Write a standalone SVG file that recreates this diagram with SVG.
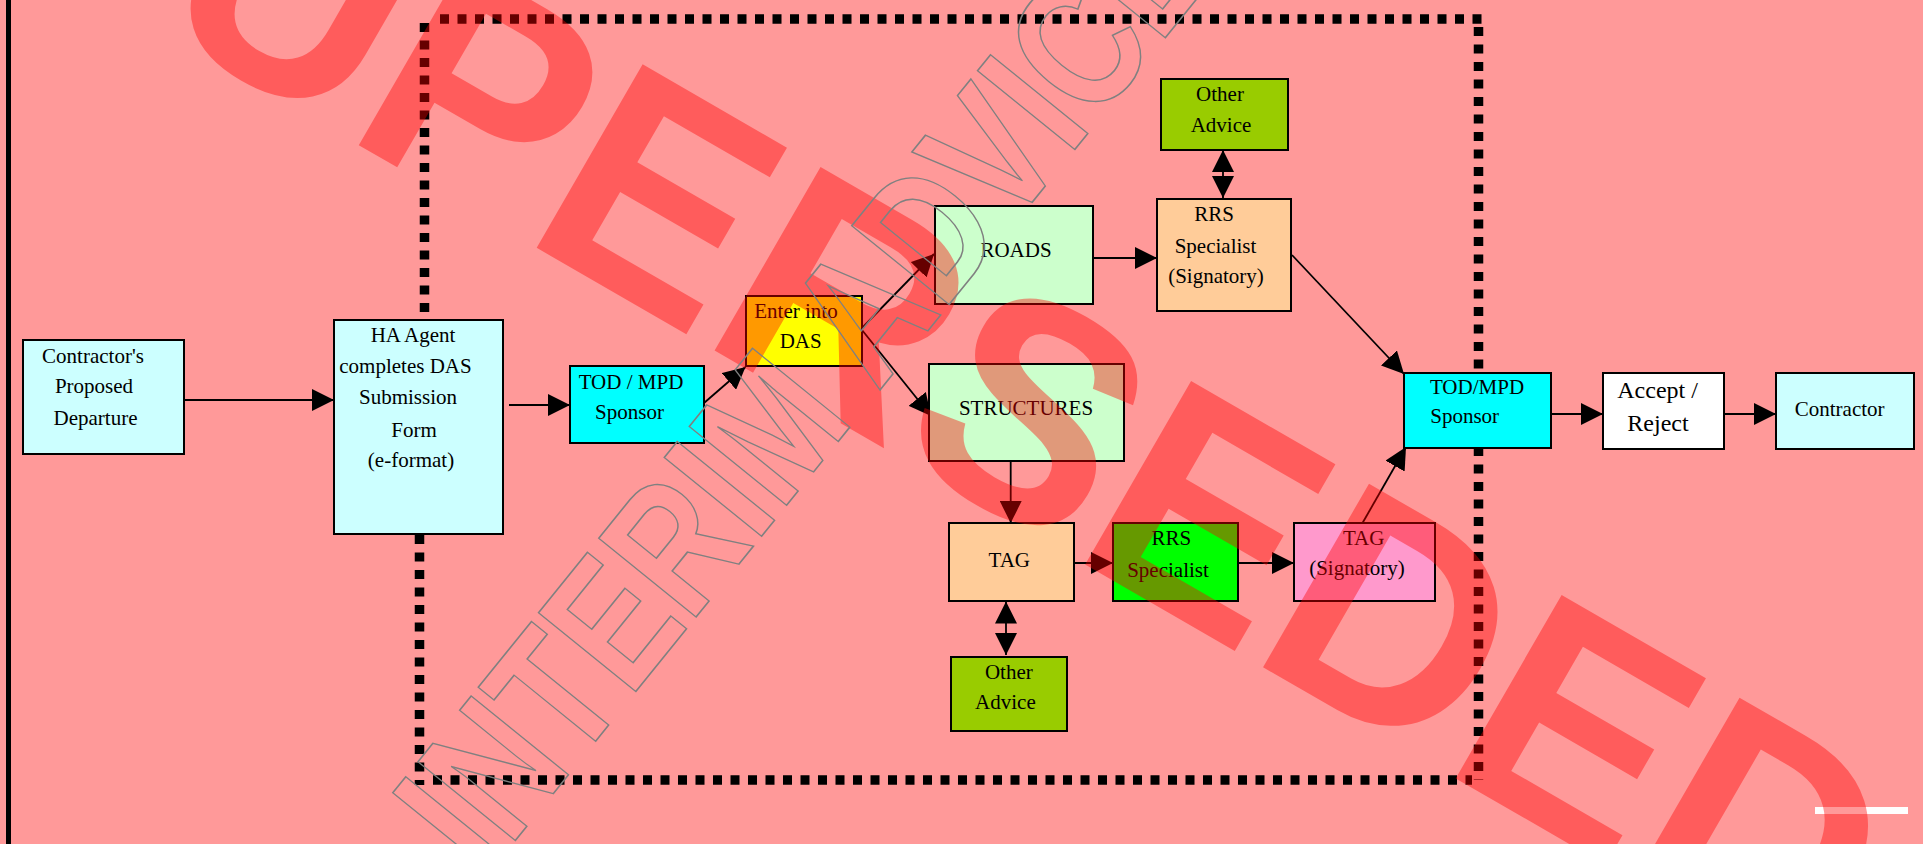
<svg xmlns="http://www.w3.org/2000/svg" width="1923" height="844" viewBox="0 0 1923 844">
<style>
.box{stroke:#000;stroke-width:2}
.t{font-family:"Liberation Serif","Times New Roman",serif;font-size:21px;fill:#000;text-anchor:middle}
.big{font-size:24px}
.c{stroke:#000;stroke-width:1.8;fill:none;marker-end:url(#ah)}
.dot{stroke:#000;stroke-width:9.5;stroke-dasharray:9 8.5;fill:none}
</style>
<defs>
<marker id="ah" markerUnits="userSpaceOnUse" markerWidth="22" markerHeight="22" viewBox="0 0 22 22" refX="22" refY="11" orient="auto">
<path d="M0,0 L22,11 L0,22 Z" fill="#000"/>
</marker>
</defs>
<rect x="0" y="0" width="1923" height="844" fill="#ff9999"/>
<rect x="6" y="0" width="5" height="844" fill="#000"/>
<rect x="1815" y="807" width="93" height="7" fill="#fff"/>

<g id="boundary">
<line class="dot" x1="440" y1="19" x2="1483" y2="19"/>
<line class="dot" x1="1478.5" y1="27" x2="1478.5" y2="780"/>
<line class="dot" x1="433" y1="780" x2="1472" y2="780"/>
<line class="dot" x1="424.5" y1="23" x2="424.5" y2="313"/>
<line class="dot" x1="419.5" y1="535" x2="419.5" y2="785"/>
</g>

<g id="connectors">
<line class="c" x1="184" y1="400" x2="334" y2="400"/>
<line class="c" x1="509" y1="405" x2="570" y2="405"/>
<line class="c" x1="704" y1="403" x2="745.5" y2="367"/>
<line class="c" x1="862" y1="328" x2="934" y2="254"/>
<line class="c" x1="862" y1="330" x2="931" y2="416"/>
<line class="c" x1="1093" y1="258" x2="1157" y2="258"/>
<line class="c" x1="1223" y1="174" x2="1223" y2="150"/>
<line class="c" x1="1223" y1="174" x2="1223" y2="198"/>
<line class="c" x1="1292" y1="255" x2="1404" y2="374"/>
<line class="c" x1="1010.7" y1="461" x2="1010.7" y2="523"/>
<line class="c" x1="1074" y1="563" x2="1113" y2="563"/>
<line class="c" x1="1238" y1="563" x2="1294" y2="563"/>
<line class="c" x1="1362.5" y1="523" x2="1406" y2="447"/>
<line class="c" x1="1006" y1="627" x2="1006" y2="601.5"/>
<line class="c" x1="1006" y1="627" x2="1006" y2="655"/>
<line class="c" x1="1549" y1="414" x2="1603" y2="414"/>
<line class="c" x1="1724.5" y1="414" x2="1776" y2="414"/>
</g>

<g id="contractor-proposed">
<rect class="box" x="23" y="340" width="161" height="114" fill="#ccffff"/>
<text class="t" x="93" y="363">Contractor's</text>
<text class="t" x="94" y="393">Proposed</text>
<text class="t" x="95.5" y="425">Departure</text>
</g>

<g id="ha-agent">
<rect class="box" x="334" y="320" width="169" height="214" fill="#ccffff"/>
<text class="t" x="413" y="342">HA Agent</text>
<text class="t" x="405.5" y="373">completes DAS</text>
<text class="t" x="408" y="404">Submission</text>
<text class="t" x="414" y="437">Form</text>
<text class="t" x="411" y="467">(e-format)</text>
</g>

<g id="tod-mpd-sponsor-1">
<rect class="box" x="570" y="366" width="134" height="77" fill="#00ffff"/>
<text class="t" x="631" y="389">TOD / MPD</text>
<text class="t" x="629.5" y="419">Sponsor</text>
</g>

<g id="enter-das">
<rect class="box" x="746" y="296" width="116" height="70" fill="#ffff00"/>
<text class="t" x="796" y="318">Enter into</text>
<text class="t" x="800.7" y="348">DAS</text>
</g>

<g id="roads">
<rect class="box" x="935" y="206" width="158" height="98" fill="#ccffcc"/>
<text class="t" x="1016" y="257">ROADS</text>
</g>

<g id="structures">
<rect class="box" x="929" y="364" width="195" height="97" fill="#ccffcc"/>
<text class="t" x="1026" y="415">STRUCTURES</text>
</g>

<g id="other-advice-top">
<rect class="box" x="1161" y="79" width="127" height="71" fill="#99cc00"/>
<text class="t" x="1220" y="101">Other</text>
<text class="t" x="1221" y="132">Advice</text>
</g>

<g id="rrs-specialist-signatory">
<rect class="box" x="1157" y="199" width="134" height="112" fill="#ffcc99"/>
<text class="t" x="1214" y="221">RRS</text>
<text class="t" x="1215.5" y="253">Specialist</text>
<text class="t" x="1216" y="283">(Signatory)</text>
</g>

<g id="tag">
<rect class="box" x="949" y="523" width="125" height="78" fill="#ffcc99"/>
<text class="t" x="1009.3" y="567">TAG</text>
</g>

<g id="rrs-specialist">
<rect class="box" x="1113" y="523" width="125" height="78" fill="#00ff00"/>
<text class="t" x="1171.4" y="545">RRS</text>
<text class="t" x="1168" y="577">Specialist</text>
</g>

<g id="tag-signatory">
<rect class="box" x="1294" y="523" width="141" height="78" fill="#ff99cc"/>
<text class="t" x="1363.7" y="545">TAG</text>
<text class="t" x="1357" y="575">(Signatory)</text>
</g>

<g id="other-advice-bottom">
<rect class="box" x="951" y="657" width="116" height="74" fill="#99cc00"/>
<text class="t" x="1008.8" y="679">Other</text>
<text class="t" x="1005.4" y="709">Advice</text>
</g>

<g id="tod-mpd-sponsor-2">
<rect class="box" x="1404" y="373" width="147" height="75" fill="#00ffff"/>
<text class="t" x="1477" y="394">TOD/MPD</text>
<text class="t" x="1464.7" y="423">Sponsor</text>
</g>

<g id="accept-reject">
<rect class="box" x="1603" y="373" width="121" height="76" fill="#ffffff"/>
<text class="t big" x="1657.6" y="398">Accept /</text>
<text class="t big" x="1658" y="431">Reject</text>
</g>

<g id="contractor">
<rect class="box" x="1776" y="373" width="138" height="76" fill="#ccffff"/>
<text class="t" x="1839.7" y="416">Contractor</text>
</g>

<text transform="translate(-29.6,-79.1) rotate(30)" x="0" y="0" font-family="Liberation Sans, Arial, sans-serif" font-weight="bold" font-size="308" fill="#ff0000" fill-opacity="0.4">SUPERSEDED</text>

<text transform="translate(484,879) rotate(-51) scale(0.79,1)" x="0" y="0" font-family="Liberation Sans, Arial, sans-serif" font-weight="bold" font-size="182" fill="none" stroke="#808080" stroke-width="1.6">INTERIM ADVICE</text>
</svg>
